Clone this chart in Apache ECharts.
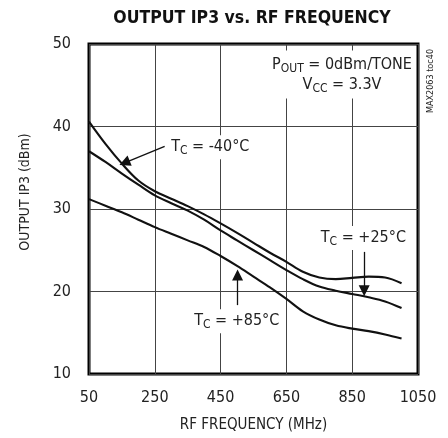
<!DOCTYPE html>
<html><head><meta charset="utf-8">
<script src="https://cdn.jsdelivr.net/npm/echarts@6/dist/echarts.min.js"></script>
<style>html,body{margin:0;padding:0;background:#fff}#c{width:448px;height:438px}</style>
</head><body><div id="c"></div>
<script>
// ---- data ----
const freqMHz   = [50,100,150,200,250,300,350,400,450,500,550,600,650,700,750,800,850,900,950,1000];
const ip3Minus40 = [40.6,37.9,35.5,33.45,32.15,31.25,30.35,29.35,28.25,27.1,25.9,24.7,23.6,22.4,21.7,21.5,21.65,21.8,21.7,21.0];
const ip3Plus25  = [37.0,35.7,34.3,32.95,31.65,30.7,29.8,28.7,27.4,26.2,25.0,23.8,22.6,21.5,20.6,20.1,19.7,19.3,18.8,18.0];
const ip3Plus85  = [31.2,30.4,29.6,28.7,27.8,27.0,26.2,25.4,24.3,23.1,21.8,20.5,19.1,17.6,16.6,15.9,15.5,15.2,14.8,14.3];
const xTicks = [50,250,450,650,850,1050];
const yTicks = [10,20,30,40,50];

const FONT = "'Liberation Sans Narrow', 'DejaVu Sans Condensed', 'Roboto Condensed', sans-serif";
const TXT = '#222';

function pairs(ys){ return freqMHz.map((x,i)=>[x, ys[i]]); }

const rich = {
  m: {fontSize:16, fontFamily:FONT, color:TXT, lineHeight:20},
  s: {fontSize:12, fontFamily:FONT, color:TXT, lineHeight:10, verticalAlign:'bottom'}
};

function annot(coord, text, pos){
  return {
    coord: coord, symbol:'circle', symbolSize:1,
    itemStyle:{color:'rgba(0,0,0,0)'},
    label:{show:true, position:pos, distance:0, formatter:text, rich:rich,
           backgroundColor:'#fff', padding:[2,3,2,3]}
  };
}

const lineBase = {type:'line', smooth:0.35, showSymbol:false, symbol:'none',
  lineStyle:{width:2.1, color:'#111'}, itemStyle:{color:'#111'}, silent:true, z:3};

const chart = echarts.init(document.getElementById('c'), null, {renderer:'canvas'});
chart.setOption({
  animation:false,
  backgroundColor:'#fff',
  grid:{left:89, right:30, top:44, bottom:62, show:true, borderColor:'#000', borderWidth:3, backgroundColor:'#fff'},
  xAxis:{
    type:'value', min:xTicks[0], max:xTicks[xTicks.length-1], interval:200,
    axisLine:{show:false}, axisTick:{show:false},
    axisLabel:{fontSize:16, fontFamily:FONT, color:TXT, margin:16, formatter:v=>String(v)},
    splitLine:{show:true, lineStyle:{color:'#444', width:1}},
    name:'RF FREQUENCY (MHz)', nameLocation:'middle', nameGap:44,
    nameTextStyle:{fontSize:15, fontFamily:FONT, color:TXT}
  },
  yAxis:{
    type:'value', min:yTicks[0], max:yTicks[yTicks.length-1], interval:10,
    axisLine:{show:false}, axisTick:{show:false},
    axisLabel:{fontSize:16, fontFamily:FONT, color:TXT, margin:18, formatter:v=>String(v)},
    splitLine:{show:true, lineStyle:{color:'#444', width:1}}
  },
  graphic:[
    {type:'text', x:252, y:18, style:{text:'OUTPUT IP3 vs. RF FREQUENCY', font:"bold 17.5px "+FONT, fill:'#111', textAlign:'center', textVerticalAlign:'middle'}},
    {type:'text', x:25, y:192, rotation:Math.PI/2, style:{text:'OUTPUT IP3 (dBm)', font:"14px "+FONT, fill:TXT, textAlign:'center', textVerticalAlign:'middle'}},
    {type:'text', x:431, y:81, rotation:Math.PI/2, style:{text:'MAX2063 toc40', font:"9px "+FONT, fill:TXT, textAlign:'center', textVerticalAlign:'middle'}}
  ],
  series:[
    Object.assign({name:'TC = -40°C', data:pairs(ip3Minus40)}, lineBase),
    Object.assign({name:'TC = +85°C', data:pairs(ip3Plus85)}, lineBase),
    Object.assign({name:'TC = +25°C', data:pairs(ip3Plus25),
      markLine:{
        silent:true, symbol:['none','triangle'], symbolSize:11,
        label:{show:false},
        lineStyle:{color:'#111', width:1.3, type:'solid'},
        data:[
          [{coord:[280,37.6]},{coord:[158,35.6]}],
          [{coord:[886.5,24.8]},{coord:[886.5,20.1]}],
          [{coord:[501.6,18.35]},{coord:[501.6,22.0]}]
        ]
      },
      markPoint:{
        silent:true,
        data:[
          annot([289,37.5], '{m|T}{s|C}{m| = -40°C}', 'right'),
          annot([884,26.5], '{m|T}{s|C}{m| = +25°C}', 'inside'),
          annot([499,16.4], '{m|T}{s|C}{m| = +85°C}', 'inside'),
          Object.assign(annot([816,46.3], '', 'inside'),
            {label:{show:true, position:'inside', formatter:'{m|P}{s|OUT}{m| = 0dBm/TONE}\n{m|V}{s|CC}{m| = 3.3V}', rich:rich, align:'center', backgroundColor:'#fff', padding:[4,4,4,6]}})
        ]
      }
    }, lineBase)
  ]
});
</script>
</body></html>
